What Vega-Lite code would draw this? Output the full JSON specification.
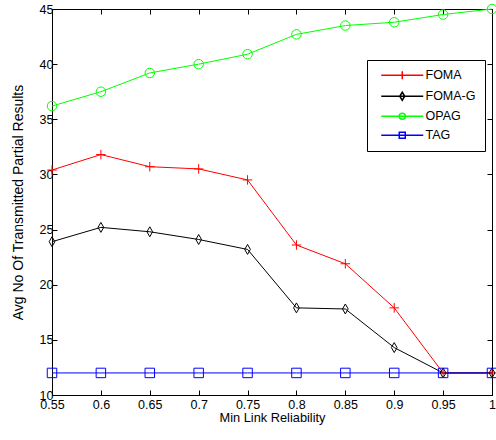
{
  "$schema": "https://vega.github.io/schema/vega-lite/v6.json",
  "width": 440,
  "height": 386,
  "autosize": {"type": "none"},
  "padding": {"left": 52, "top": 9, "right": 4, "bottom": 45},
  "background": "white",
  "config": {
    "font": "Liberation Sans",
    "view": {"stroke": "black", "strokeWidth": 1},
    "axis": {
      "grid": false,
      "domainColor": "black",
      "tickColor": "black",
      "labelColor": "black",
      "titleColor": "black",
      "tickSize": -5,
      "labelFlush": false,
      "labelOverlap": false,
      "labelFontSize": 12.5,
      "titleFontSize": 12.8,
      "titleFontWeight": "normal",
      "labelFont": "Liberation Sans",
      "titleFont": "Liberation Sans"
    },
    "legend": {
      "labelFont": "Liberation Sans",
      "labelFontSize": 12.5,
      "labelColor": "black"
    }
  },
  "data": {
    "values": [
      {"r": 0.55, "s": "FOMA", "v": 30.4},
      {"r": 0.6, "s": "FOMA", "v": 31.8},
      {"r": 0.65, "s": "FOMA", "v": 30.7},
      {"r": 0.7, "s": "FOMA", "v": 30.5},
      {"r": 0.75, "s": "FOMA", "v": 29.5},
      {"r": 0.8, "s": "FOMA", "v": 23.6},
      {"r": 0.85, "s": "FOMA", "v": 21.9},
      {"r": 0.9, "s": "FOMA", "v": 17.9},
      {"r": 0.95, "s": "FOMA", "v": 12},
      {"r": 1.0, "s": "FOMA", "v": 12},
      {"r": 0.55, "s": "FOMA-G", "v": 23.9},
      {"r": 0.6, "s": "FOMA-G", "v": 25.2},
      {"r": 0.65, "s": "FOMA-G", "v": 24.8},
      {"r": 0.7, "s": "FOMA-G", "v": 24.1},
      {"r": 0.75, "s": "FOMA-G", "v": 23.2},
      {"r": 0.8, "s": "FOMA-G", "v": 17.9},
      {"r": 0.85, "s": "FOMA-G", "v": 17.8},
      {"r": 0.9, "s": "FOMA-G", "v": 14.3},
      {"r": 0.95, "s": "FOMA-G", "v": 12},
      {"r": 1.0, "s": "FOMA-G", "v": 12},
      {"r": 0.55, "s": "OPAG", "v": 36.2},
      {"r": 0.6, "s": "OPAG", "v": 37.5},
      {"r": 0.65, "s": "OPAG", "v": 39.2},
      {"r": 0.7, "s": "OPAG", "v": 40.0},
      {"r": 0.75, "s": "OPAG", "v": 40.9},
      {"r": 0.8, "s": "OPAG", "v": 42.7},
      {"r": 0.85, "s": "OPAG", "v": 43.5},
      {"r": 0.9, "s": "OPAG", "v": 43.8},
      {"r": 0.95, "s": "OPAG", "v": 44.5},
      {"r": 1.0, "s": "OPAG", "v": 45.0},
      {"r": 0.55, "s": "TAG", "v": 12},
      {"r": 0.6, "s": "TAG", "v": 12},
      {"r": 0.65, "s": "TAG", "v": 12},
      {"r": 0.7, "s": "TAG", "v": 12},
      {"r": 0.75, "s": "TAG", "v": 12},
      {"r": 0.8, "s": "TAG", "v": 12},
      {"r": 0.85, "s": "TAG", "v": 12},
      {"r": 0.9, "s": "TAG", "v": 12},
      {"r": 0.95, "s": "TAG", "v": 12},
      {"r": 1.0, "s": "TAG", "v": 12}
    ]
  },
  "resolve": {
    "scale": {"color": "independent", "shape": "independent"},
    "axis": {"x": "independent", "y": "independent"}
  },
  "layer": [
    {
      "mark": {"type": "line", "strokeWidth": 1},
      "encoding": {
        "x": {
          "field": "r", "type": "quantitative",
          "scale": {"domain": [0.55, 1], "nice": false, "zero": false},
          "axis": {"values": [0.55, 0.6, 0.65, 0.7, 0.75, 0.8, 0.85, 0.9, 0.95, 1], "format": "~g", "title": "Min Link Reliability", "labelPadding": 8, "titlePadding": 1}
        },
        "y": {
          "field": "v", "type": "quantitative",
          "scale": {"domain": [10, 45], "nice": false, "zero": false},
          "axis": {"values": [10, 15, 20, 25, 30, 35, 40, 45], "title": "Avg No Of Transmitted Partial Results", "titleFontSize": 14, "labelPadding": 4, "titlePadding": 14}
        },
        "color": {
          "field": "s", "type": "nominal",
          "scale": {"domain": ["FOMA", "FOMA-G", "OPAG", "TAG"], "range": ["#ff0000", "#000000", "#00ff00", "#0000ff"]},
          "legend": null
        }
      }
    },
    {
      "mark": {"type": "point", "filled": false, "strokeWidth": 1, "size": 90, "opacity": 1},
      "encoding": {
        "x": {"field": "r", "type": "quantitative", "axis": null},
        "y": {"field": "v", "type": "quantitative", "axis": null},
        "color": {
          "field": "s", "type": "nominal",
          "scale": {"domain": ["FOMA", "FOMA-G", "OPAG", "TAG"], "range": ["#ff0000", "#000000", "#00ff00", "#0000ff"]},
          "legend": null
        },
        "shape": {
          "field": "s", "type": "nominal",
          "scale": {"domain": ["FOMA", "FOMA-G", "OPAG", "TAG"], "range": ["M-1,0H1M0,-1V1", "M0,-1.05L0.6,0L0,1.05L-0.6,0Z", "circle", "square"]},
          "legend": null
        }
      }
    },
    {
      "transform": [{"filter": "datum.v < 0"}],
      "mark": {"type": "point", "filled": false, "strokeWidth": 1, "size": 100, "opacity": 1},
      "encoding": {
        "x": {"field": "r", "type": "quantitative", "axis": null},
        "y": {"field": "v", "type": "quantitative", "axis": null},
        "color": {
          "field": "s", "type": "nominal",
          "scale": {"domain": ["FOMA", "FOMA-G", "OPAG", "TAG"], "range": ["#ff0000", "#000000", "#00ff00", "#0000ff"]},
          "legend": {
            "title": null, "orient": "none", "legendX": 315, "legendY": 51,
            "strokeColor": "black", "fillColor": "white", "padding": 9, "rowPadding": 6,
            "symbolOffset": 20, "labelOffset": 17
          }
        },
        "shape": {
          "field": "s", "type": "nominal",
          "scale": {"domain": ["FOMA", "FOMA-G", "OPAG", "TAG"], "range": ["M-4.2,0H4.2M0,-0.8V0.8", "M-4.2,0H4.2M0,-0.8L0.5,0L0,0.8L-0.5,0Z", "M-4.2,0H4.2M0.6,0A0.6,0.6,0,1,1,-0.6,0A0.6,0.6,0,1,1,0.6,0", "M-4.2,0H4.2M-0.6,-0.6H0.6V0.6H-0.6Z"]},
          "legend": {
            "title": null, "orient": "none", "legendX": 315, "legendY": 51,
            "strokeColor": "black", "fillColor": "white", "padding": 9, "rowPadding": 6,
            "symbolOffset": 20, "labelOffset": 17
          }
        }
      }
    },
    {
      "mark": {"type": "point", "opacity": 0},
      "encoding": {
        "x": {"field": "r", "type": "quantitative", "axis": {"orient": "top", "values": [0.55, 0.6, 0.65, 0.7, 0.75, 0.8, 0.85, 0.9, 0.95, 1], "labels": false, "title": null}},
        "y": {"field": "v", "type": "quantitative", "axis": {"orient": "right", "values": [10, 15, 20, 25, 30, 35, 40, 45], "labels": false, "title": null}}
      }
    }
  ]
}
